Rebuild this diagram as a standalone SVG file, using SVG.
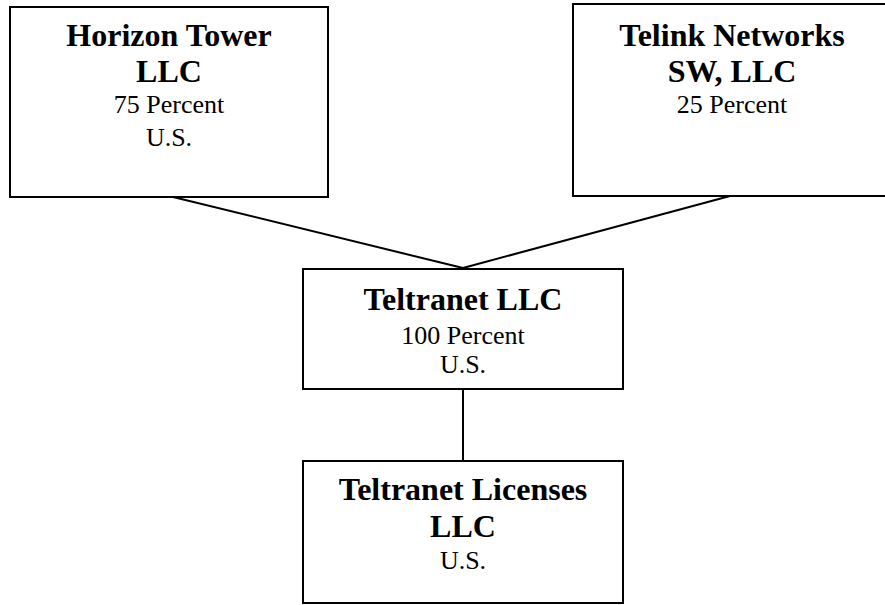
<svg xmlns="http://www.w3.org/2000/svg" width="885" height="605" viewBox="0 0 885 605">
<style>
.box{fill:#fff;stroke:#000;stroke-width:2}
.t{font-family:"Liberation Serif","Times New Roman",serif;fill:#000;text-anchor:middle}
.b{font-weight:bold;font-size:32px}
.r{font-size:26px}
.c{stroke:#000;stroke-width:2;fill:none}
</style>
<rect width="885" height="605" fill="#fff"/>
<g id="connectors">
<line class="c" x1="173" y1="197" x2="463" y2="268"/>
<line class="c" x1="730" y1="196" x2="463" y2="268"/>
<line class="c" x1="463" y1="389" x2="463" y2="461"/>
</g>
<g id="horizon">
<rect class="box" x="10" y="7" width="318" height="190"/>
<text class="t b" x="169" y="46">Horizon Tower</text>
<text class="t b" x="169" y="82">LLC</text>
<text class="t r" x="169" y="113">75 Percent</text>
<text class="t r" x="169" y="146">U.S.</text>
</g>
<g id="telink">
<rect class="box" x="573" y="4" width="322" height="192"/>
<text class="t b" x="732" y="46">Telink Networks</text>
<text class="t b" x="732" y="82">SW, LLC</text>
<text class="t r" x="732" y="113">25 Percent</text>
</g>
<g id="teltranet">
<rect class="box" x="303" y="269" width="320" height="120"/>
<text class="t b" x="463" y="310">Teltranet LLC</text>
<text class="t r" x="463" y="344">100 Percent</text>
<text class="t r" x="463" y="373">U.S.</text>
</g>
<g id="licenses">
<rect class="box" x="303" y="461" width="320" height="142"/>
<text class="t b" x="463" y="500">Teltranet Licenses</text>
<text class="t b" x="463" y="537">LLC</text>
<text class="t r" x="463" y="569">U.S.</text>
</g>
</svg>
